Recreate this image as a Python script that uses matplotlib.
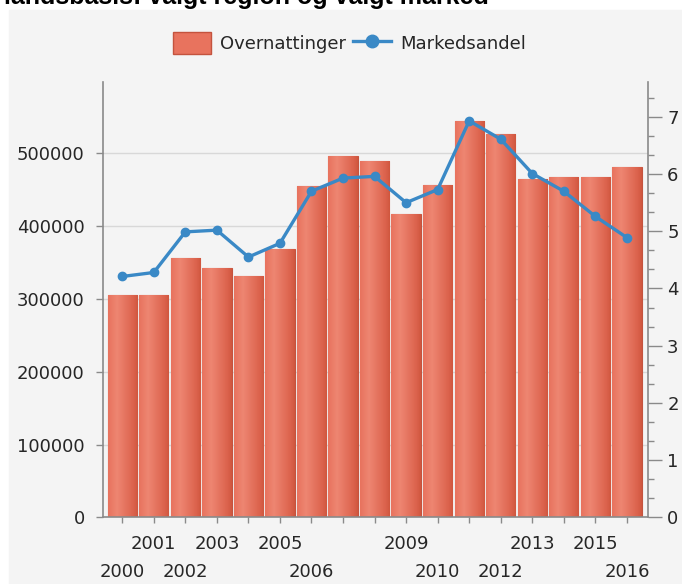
import matplotlib
matplotlib.use("Agg")
import matplotlib.pyplot as plt
import matplotlib.patches as mpatches
from matplotlib.lines import Line2D
from matplotlib.colors import LinearSegmentedColormap
from matplotlib.ticker import MultipleLocator
import numpy as np

years = list(range(2000, 2017))
overnattinger = [306000, 306000, 356000, 343000, 332000, 368000, 455000, 497000, 490000,
                 417000, 457000, 545000, 527000, 465000, 468000, 468000, 481000]
markedsandel = [4.21, 4.28, 4.99, 5.02, 4.55, 4.79, 5.70, 5.93, 5.96,
                5.50, 5.73, 6.93, 6.61, 6.01, 5.70, 5.26, 4.89]
# years the chart actually prints under the axis (the rest were hidden by overlap)
shown_years = [2000, 2001, 2002, 2003, 2005, 2006, 2009, 2010, 2012, 2013, 2015, 2016]

title = "landsbasis: valgt region og valgt marked"

BG = "#f4f4f4"
TXT = "#262626"
AXC = "#8a8a8a"
BAR_EDGE = "#c4533e"
LINE_C = "#3a89c6"

plt.rcParams.update({
    "font.family": "DejaVu Sans",
    "font.size": 13,
    "text.color": TXT,
    "xtick.color": AXC,
    "ytick.color": AXC,
    "xtick.labelcolor": TXT,
    "ytick.labelcolor": TXT,
})

fig = plt.figure(figsize=(6.82, 5.84), dpi=100, facecolor="white")
fig.patches.append(mpatches.Rectangle((9 / 682, 0), 1, 1 - 10 / 584,
                                      transform=fig.transFigure, color=BG, zorder=-10))
# title sits above the crop, only its lower part shows
fig.text(4 / 682, 1 - 4 / 584, title, fontsize=18, fontweight="bold",
         family="Liberation Sans", color="black", va="baseline", ha="left")

ax = fig.add_axes([0.1506, 0.1142, 0.9497 - 0.1506, 0.8596 - 0.1142])
ax.set_facecolor(BG)
x = np.arange(len(years))

bars = ax.bar(x, overnattinger, width=0.93, color="#e5705a", edgecolor=BAR_EDGE,
              linewidth=0.8, zorder=2)
cmap = LinearSegmentedColormap.from_list(
    "bar", [(0, "#e8735e"), (0.3, "#ee8672"), (0.85, "#dc634d"), (1, "#d0573f")])
grad = np.linspace(0, 1, 64).reshape(1, -1)
for b in bars:
    im = ax.imshow(grad, cmap=cmap, aspect="auto", zorder=2.5,
                   extent=[b.get_x(), b.get_x() + b.get_width(), 0, b.get_height()])
    im.set_clip_path(b)

ax.set_xlim(-0.62, len(years) - 0.34)
ax.set_ylim(0, 598000)
ax.set_yticks(np.arange(0, 600000, 100000))
ax.yaxis.grid(True, color="#d8d8d8", linewidth=1)
ax.set_axisbelow(True)
ax.tick_params(axis="y", length=5, width=1, pad=8)

# year labels in two staggered rows: odd years on top, even years below
ax.set_xticks(x)
ax.set_xticklabels([])
ax.tick_params(axis="x", length=4, width=1)
for i, y in enumerate(years):
    if y not in shown_years:
        continue
    off = 12.5 if y % 2 else 33
    ax.annotate(str(y), xy=(i, 0), xycoords=("data", "axes fraction"),
                xytext=(0, -off), textcoords="offset points",
                ha="center", va="top", fontsize=13, color=TXT)

for s in ["top", "right"]:
    ax.spines[s].set_visible(False)
for s in ["left", "bottom"]:
    ax.spines[s].set_color(AXC)
    ax.spines[s].set_linewidth(1.2)

ax2 = ax.twinx()
ax2.plot(x, markedsandel, color=LINE_C, linewidth=2.4, marker="o", markersize=6, zorder=4)
ax2.set_ylim(0, 7.61)
ax2.set_yticks(range(0, 8))
ax2.yaxis.set_minor_locator(MultipleLocator(1 / 3))
ax2.tick_params(axis="y", which="major", length=10, width=1, pad=4)
ax2.tick_params(axis="y", which="minor", length=4, width=1)
for s in ["top", "left", "bottom"]:
    ax2.spines[s].set_visible(False)
ax2.spines["right"].set_color(AXC)
ax2.spines["right"].set_linewidth(1.2)

handles = [
    mpatches.Patch(facecolor="#e8735e", edgecolor=BAR_EDGE, label="Overnattinger"),
    Line2D([], [], color=LINE_C, linewidth=2.4, marker="o", markersize=9, label="Markedsandel"),
]
fig.legend(handles=handles, loc="center", bbox_to_anchor=(0.512, 0.926), ncol=2,
           frameon=False, handlelength=2.1, handleheight=1.5, handletextpad=0.5,
           columnspacing=0.4, fontsize=13)

fig.savefig("out.png", dpi=100, facecolor="white")
